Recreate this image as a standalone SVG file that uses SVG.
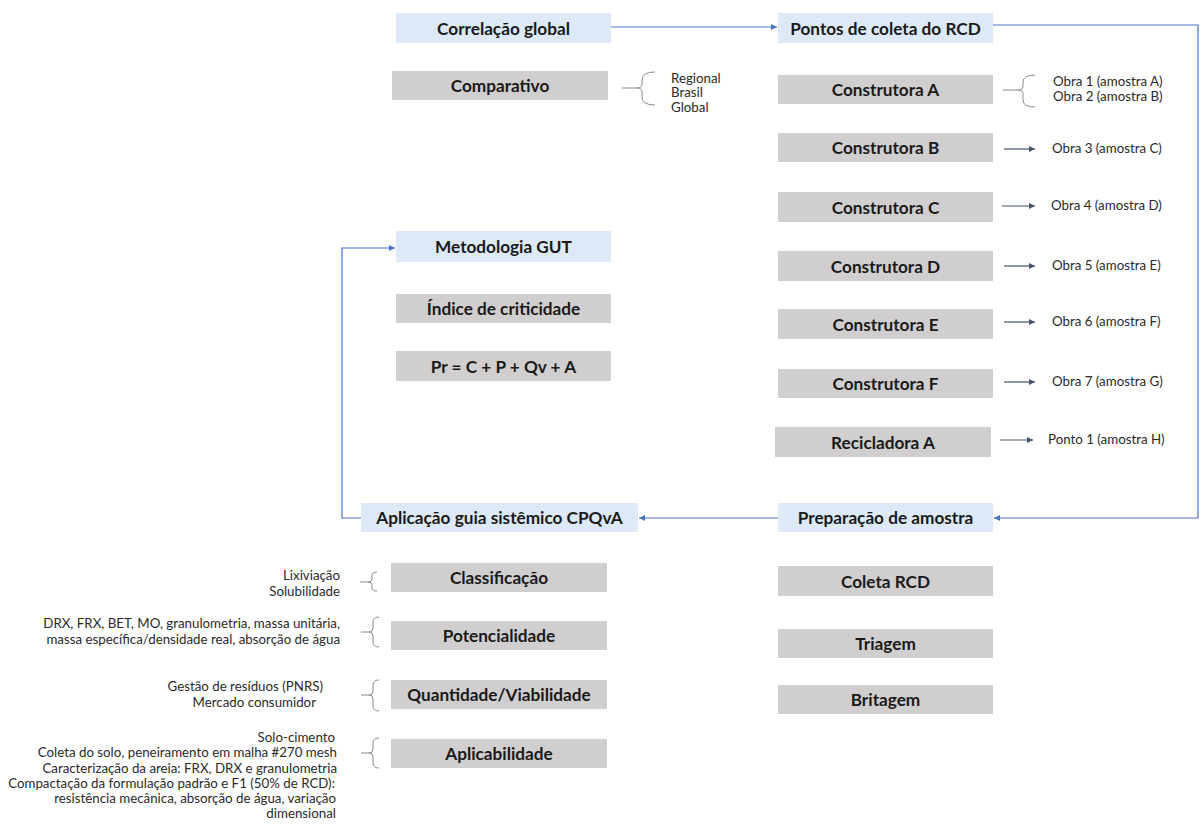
<svg xmlns="http://www.w3.org/2000/svg" width="1200" height="832" viewBox="0 0 1200 832">
<defs>
<style>
.blue{fill:#dde9f6}
.gray{fill:#d0cece}
.lbl{font-family:Lato,"Liberation Sans",sans-serif;font-weight:bold;font-size:17.2px;fill:#1a1a1a;text-anchor:middle;dominant-baseline:central}
.sm{font-family:Lato,"Liberation Sans",sans-serif;font-size:13.3px;fill:#2a2a2a}
.end{text-anchor:end}
.conn{fill:none;stroke:#4a72c4;stroke-width:1.2}
.sub{fill:none;stroke:#44546a;stroke-width:1.2}
.br{fill:none;stroke:#8a8a8a;stroke-width:1}
</style>
<marker id="ab" markerWidth="8" markerHeight="8" refX="6" refY="3" orient="auto" markerUnits="userSpaceOnUse">
<path d="M0,0 L6,3 L0,6 z" fill="#4a72c4"/>
</marker>
<marker id="ag" markerWidth="8" markerHeight="8" refX="6" refY="3" orient="auto" markerUnits="userSpaceOnUse">
<path d="M0,0 L6,3 L0,6 z" fill="#44546a"/>
</marker>
</defs>
<rect width="1200" height="832" fill="#fff"/>

<g id="connectors">
<path class="conn" d="M611,27 L777,27" marker-end="url(#ab)"/>
<path class="conn" d="M993,25 L1198,25 L1198,518 L994,518" marker-end="url(#ab)"/>
<path class="conn" d="M778,518 L639,518" marker-end="url(#ab)"/>
<path class="conn" d="M361,518 L342,518 L342,248 L395,248" marker-end="url(#ab)"/>
<path class="sub" d="M1004,149 L1035,149" marker-end="url(#ag)"/>
<path class="sub" d="M1002,206 L1035,206" marker-end="url(#ag)"/>
<path class="sub" d="M1004,266 L1035,266" marker-end="url(#ag)"/>
<path class="sub" d="M1004,322 L1035,322" marker-end="url(#ag)"/>
<path class="sub" d="M1004,382 L1035,382" marker-end="url(#ag)"/>
<path class="sub" d="M1000,440 L1033,440" marker-end="url(#ag)"/>
<path class="br" d="M622,88 L637,88 M655,72 Q642,72 642,80 L642,84 Q642,88 637,88 Q642,88 642,92 L642,97 Q642,105 655,105"/>
<path class="br" d="M1003,90 L1018,90 M1035,75 Q1023,75 1023,82 L1023,86 Q1023,90 1018,90 Q1023,90 1023,94 L1023,100 Q1023,107 1035,107"/>
<path class="br" d="M360,582 L368,582 M377,572 Q372,572 372,576 L372,579 Q372,582 368,582 Q372,582 372,585 L372,588 Q372,591 377,591"/>
<path class="br" d="M361,632 L369,632 M379,617 Q373,617 373,622 L373,628 Q373,632 369,632 Q373,632 373,636 L373,642 Q373,647 379,647"/>
<path class="br" d="M361,695 L369,695 M379,680 Q373,680 373,685 L373,691 Q373,695 369,695 Q373,695 373,699 L373,706 Q373,711 379,711"/>
<path class="br" d="M361,753 L369,753 M379,738 Q373,738 373,743 L373,749 Q373,753 369,753 Q373,753 373,757 L373,763 Q373,768 379,768"/>
</g>

<g id="correlacao"><rect class="blue" x="396" y="13" width="215" height="30"/><text class="lbl" x="503.5" y="28">Correlação global</text></g>
<g id="comparativo"><rect class="gray" x="392" y="71" width="216" height="29"/><text class="lbl" x="500" y="85.5">Comparativo</text>
<text class="sm" x="671" y="83">Regional</text><text class="sm" x="671" y="97">Brasil</text><text class="sm" x="671" y="112">Global</text></g>

<g id="pontos"><rect class="blue" x="778" y="13" width="215" height="30"/><text class="lbl" x="885.5" y="28">Pontos de coleta do RCD</text></g>
<g id="constA"><rect class="gray" x="778" y="75" width="215" height="29"/><text class="lbl" x="885.5" y="89.5">Construtora A</text>
<text class="sm" x="1053" y="86">Obra 1 (amostra A)</text><text class="sm" x="1053" y="101">Obra 2 (amostra B)</text></g>
<g id="constB"><rect class="gray" x="778" y="133" width="215" height="29"/><text class="lbl" x="885.5" y="147.5">Construtora B</text><text class="sm" x="1052" y="153">Obra 3 (amostra C)</text></g>
<g id="constC"><rect class="gray" x="778" y="192" width="215" height="30"/><text class="lbl" x="885.5" y="207">Construtora C</text><text class="sm" x="1051" y="210">Obra 4 (amostra D)</text></g>
<g id="constD"><rect class="gray" x="778" y="251" width="215" height="30"/><text class="lbl" x="885.5" y="266">Construtora D</text><text class="sm" x="1052" y="270">Obra 5 (amostra E)</text></g>
<g id="constE"><rect class="gray" x="778" y="309" width="215" height="30"/><text class="lbl" x="885.5" y="324">Construtora E</text><text class="sm" x="1052" y="326">Obra 6 (amostra F)</text></g>
<g id="constF"><rect class="gray" x="778" y="369" width="215" height="29"/><text class="lbl" x="885.5" y="383.5">Construtora F</text><text class="sm" x="1052" y="386">Obra 7 (amostra G)</text></g>
<g id="recA"><rect class="gray" x="775" y="427" width="216" height="30"/><text class="lbl" x="883" y="442">Recicladora A</text><text class="sm" x="1048" y="444">Ponto 1 (amostra H)</text></g>

<g id="gut"><rect class="blue" x="396" y="231" width="215" height="31"/><text class="lbl" x="503.5" y="246.5">Metodologia GUT</text></g>
<g id="indice"><rect class="gray" x="396" y="294" width="215" height="29"/><text class="lbl" x="503.5" y="308.5">Índice de criticidade</text></g>
<g id="pr"><rect class="gray" x="396" y="351" width="215" height="30"/><text class="lbl" x="503.5" y="366">Pr = C + P + Qv + A</text></g>

<g id="prep"><rect class="blue" x="778" y="503" width="215" height="29"/><text class="lbl" x="885.5" y="517.5">Preparação de amostra</text></g>
<g id="coleta"><rect class="gray" x="778" y="566" width="215" height="30"/><text class="lbl" x="885.5" y="581">Coleta RCD</text></g>
<g id="triagem"><rect class="gray" x="778" y="629" width="215" height="29"/><text class="lbl" x="885.5" y="643.5">Triagem</text></g>
<g id="britagem"><rect class="gray" x="778" y="685" width="215" height="29"/><text class="lbl" x="885.5" y="699.5">Britagem</text></g>

<g id="aplicacao"><rect class="blue" x="361" y="503" width="277" height="29"/><text class="lbl" x="499.5" y="517.5">Aplicação guia sistêmico CPQvA</text></g>
<g id="classif"><rect class="gray" x="391" y="563" width="216" height="29"/><text class="lbl" x="499" y="577.5">Classificação</text>
<text class="sm end" x="340" y="580">Lixiviação</text><text class="sm end" x="340" y="596">Solubilidade</text></g>
<g id="potenc"><rect class="gray" x="391" y="621" width="216" height="29"/><text class="lbl" x="499" y="635.5">Potencialidade</text>
<text class="sm end" x="340" y="628">DRX, FRX, BET, MO, granulometria, massa unitária,</text><text class="sm end" x="340" y="644">massa específica/densidade real, absorção de água</text></g>
<g id="quant"><rect class="gray" x="391" y="680" width="216" height="29"/><text class="lbl" x="499" y="694.5">Quantidade/Viabilidade</text>
<text class="sm end" x="323" y="691">Gestão de resíduos (PNRS)</text><text class="sm end" x="316" y="707">Mercado consumidor</text></g>
<g id="aplicab"><rect class="gray" x="391" y="739" width="216" height="29"/><text class="lbl" x="499" y="753.5">Aplicabilidade</text>
<text class="sm end" x="335" y="742">Solo-cimento</text>
<text class="sm end" x="337" y="757">Coleta do solo, peneiramento em malha #270 mesh</text>
<text class="sm end" x="337" y="773">Caracterização da areia: FRX, DRX e granulometria</text>
<text class="sm end" x="335" y="788">Compactação da formulação padrão e F1 (50% de RCD):</text>
<text class="sm end" x="336" y="803">resistência mecânica, absorção de água, variação</text>
<text class="sm end" x="336" y="818">dimensional</text></g>
</svg>
